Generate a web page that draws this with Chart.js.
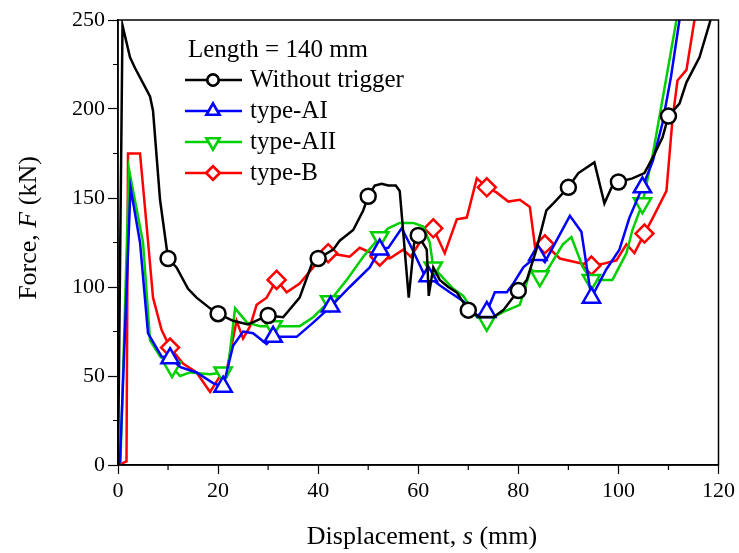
<!DOCTYPE html>
<html>
<head>
<meta charset="utf-8">
<script src="https://cdn.jsdelivr.net/npm/chart.js@4.4.1/dist/chart.umd.min.js"></script>
<style>
  html, body { margin: 0; padding: 0; background: #fff; }
  #wrap { width: 739px; height: 553px; }
</style>
</head>
<body>
<div id="wrap"><canvas id="myChart" width="739" height="553"></canvas></div>
<script>
// force-displacement curves
var blackX = [0, 0.9, 2.4, 3.4, 6.4, 7, 8.4, 10, 11.7, 14, 15.7, 18.4, 20, 23, 26, 30, 33, 36.3, 39, 40, 43, 44.3, 47, 49, 50, 51.3, 52.7, 54, 55.5, 56.3, 58.1, 59.3, 60, 61.7, 62.1, 63, 64.3, 66, 67.7, 70, 72.3, 75, 77, 80, 81.7, 83.6, 85.6, 87, 90, 92, 95.2, 97.2, 98.8, 100, 102.8, 105.2, 106.9, 108.8, 110, 112.2, 113.6, 116.2, 118.2, 118.6];
var blackY = [0, 247, 229, 223, 207, 199, 149, 116, 111, 99, 94, 88, 85, 81, 79, 84, 83, 94, 115, 116, 121, 126, 132, 143, 151, 157, 158, 157, 157, 154, 94, 128, 129, 121, 95, 111, 104, 100, 97, 87, 83, 83, 87, 98, 104, 121, 143, 147, 156, 164, 170, 147, 157, 159, 161, 164, 173, 184, 196, 203, 215, 229, 248, 252];

var blueX = [0, 0.4, 2.5, 4.4, 6, 8.7, 10.4, 12.5, 15.7, 19, 21, 23, 25, 27, 29.7, 31, 35.7, 39, 42.5, 46.3, 50.3, 52.3, 54, 56.7, 58.5, 61.7, 62, 64.3, 66.3, 69, 71.7, 73.7, 75.3, 77.7, 79, 81, 83.9, 85.3, 90.3, 92.6, 94.6, 97.6, 100.2, 102.2, 104.8, 106.9, 108.8, 110.5, 112.2];
var blueY = [0, 2, 156, 125, 74, 61, 60, 55, 52, 46, 44, 67, 75, 74, 68, 72, 72, 80, 89, 100, 111, 121, 122, 133, 123, 104, 106, 101, 97, 92, 84, 86, 97, 97, 102, 111, 118, 114, 140, 131, 94, 110, 121, 139, 156, 171, 192, 218, 250];

var greenX = [0, 0.5, 2.2, 5, 6.4, 8.4, 10.8, 12.4, 14.4, 18.4, 21, 21.8, 23.4, 25.8, 28.4, 31, 36.3, 39, 42.3, 45.7, 49, 52.3, 54, 56.3, 59, 61, 62.3, 63, 67, 69, 71.7, 73.7, 77, 80.3, 82.5, 84.3, 85.9, 88.9, 90.6, 92.9, 94.6, 98.8, 101.6, 102.8, 104.8, 106.9, 109.6, 111.6];
var greenY = [0, 2, 166, 125, 70, 61, 55, 50, 52, 51, 52, 50, 88, 80, 78, 78, 78, 83, 92, 104, 117, 128, 133, 136, 136, 134, 125, 111, 99, 95, 83, 81, 86, 90, 110, 106, 110, 124, 128, 111, 104, 104, 119, 132, 147, 175, 218, 250];

var redX = [0, 1.7, 2, 4.4, 5.8, 7, 8.7, 10.4, 13, 15.7, 18.4, 20.4, 21.5, 23.7, 25, 26.4, 27.7, 29.7, 31.7, 33.7, 36.3, 39, 42, 44.3, 46.3, 48.3, 52.3, 54.3, 57, 58.5, 60.3, 61.7, 63, 65.3, 67.7, 69.7, 71.7, 73.7, 75.7, 78, 80.3, 82.3, 83.6, 85.3, 88.3, 91.3, 94.6, 96.9, 99.6, 101.6, 103.2, 105.2, 106.9, 109.6, 110.8, 111.8, 113.6, 115.2];
var redY = [0, 2, 175, 175, 132, 94, 76, 66, 57, 52, 41, 50, 50, 81, 71, 78, 90, 94, 104, 97, 102, 111, 119, 118, 117, 122, 117, 116, 121, 117, 125, 132, 133, 119, 138, 139, 161, 156, 153, 148, 149, 145, 117, 124, 116, 114, 112, 113, 115, 124, 119, 130, 139, 154, 194, 216, 222, 250];

// where the hollow symbols sit
var blackMarks = [10, 20, 30, 40, 50, 60, 70, 80, 90, 100, 110];
var blueMarks = [10.4, 21, 31, 42.5, 52.3, 62, 73.7, 83.9, 94.6, 104.8];
var greenMarks = [10.8, 21, 31, 42.3, 52.3, 63, 73.7, 84.3, 94.6, 104.8];
var redMarks = [10.4, 31.7, 42, 52.3, 63, 73.7, 85.3, 94.6, 105.2];

var seriesNames = ['Without trigger', 'type-AI', 'type-AII', 'type-B'];
var legendTitle = 'Length = 140 mm';

var FONT = '"Liberation Serif", "Times New Roman", serif';

function pts(xs, ys) {
  return xs.map((x, i) => ({ x: x, y: ys[i] }));
}

function makeSet(label, xs, ys, marks, color, style, size, rot) {
  return {
    label: label,
    data: pts(xs, ys),
    showLine: true,
    borderColor: color,
    backgroundColor: '#fff',
    borderWidth: 2.5,
    pointBorderWidth: 2.5,
    pointStyle: style,
    pointRotation: rot,
    pointBackgroundColor: '#fff',
    pointBorderColor: color,
    pointRadius: (ctx) => (ctx.raw && marks.includes(ctx.raw.x)) ? size : 0,
    legendSize: size * 0.75,
    tension: 0
  };
}

var datasets = [
  makeSet(seriesNames[0], blackX, blackY, blackMarks, '#000000', 'circle', 7.5, 0),
  makeSet(seriesNames[1], blueX, blueY, blueMarks, '#0000ff', 'triangle', 10, 0),
  makeSet(seriesNames[2], greenX, greenY, greenMarks, '#00d000', 'triangle', 10, 180),
  makeSet(seriesNames[3], redX, redY, redMarks, '#ff0000', 'rectRot', 9, 0)
];

const framePlugin = {
  id: 'frame',
  afterDraw(chart) {
    const c = chart.ctx;
    const a = chart.chartArea;
    const xs = chart.scales.x, ys = chart.scales.y;
    c.save();
    c.strokeStyle = '#000';
    c.lineWidth = 1.5;
    c.strokeRect(a.left, a.top, a.right - a.left, a.bottom - a.top);
    // minor ticks
    c.lineWidth = 1.2;
    c.beginPath();
    for (let v = 10; v < 120; v += 20) {
      const px = xs.getPixelForValue(v);
      c.moveTo(px, a.bottom); c.lineTo(px, a.bottom + 5);
    }
    for (let v = 25; v < 250; v += 50) {
      const py = ys.getPixelForValue(v);
      c.moveTo(a.left, py); c.lineTo(a.left - 5, py);
    }
    c.stroke();

    // axis titles with italic symbols
    c.fillStyle = '#000';
    c.textBaseline = 'middle';
    function mixed(parts, cx, cy, size) {
      let w = 0;
      parts.forEach(p => { c.font = p[1] + ' ' + size + 'px ' + FONT; w += c.measureText(p[0]).width; });
      let x = cx - w / 2;
      c.textAlign = 'left';
      parts.forEach(p => { c.font = p[1] + ' ' + size + 'px ' + FONT; c.fillText(p[0], x, cy); x += c.measureText(p[0]).width; });
    }
    mixed([['Displacement, ', 'normal'], ['s', 'italic'], [' (mm)', 'normal']], 422, 537, 26);
    c.save();
    c.translate(29, 228);
    c.rotate(-Math.PI / 2);
    mixed([['Force, ', 'normal'], ['F', 'italic'], [' (kN)', 'normal']], 0, 0, 26);
    c.restore();

    // legend
    c.font = '25px ' + FONT;
    c.textAlign = 'left';
    c.fillText(legendTitle, 188, 50);
    chart.data.datasets.forEach((ds, i) => {
      const y = 80 + i * 31;
      c.strokeStyle = ds.borderColor;
      c.lineWidth = 2.5;
      c.beginPath(); c.moveTo(185, y); c.lineTo(242, y); c.stroke();
      c.fillStyle = '#fff';
      Chart.helpers.drawPoint(c, { pointStyle: ds.pointStyle, rotation: ds.pointRotation, radius: ds.legendSize, borderWidth: 2.5 }, 213, y);
      c.fill();
      c.stroke();
      c.fillStyle = '#000';
      c.fillText(ds.label, 250, y);
    });
    c.restore();
  }
};

new Chart('myChart', {
  type: 'scatter',
  data: { datasets: datasets },
  options: {
    responsive: false,
    animation: false,
    events: [],
    layout: { padding: { top: 20, right: 20, left: 0, bottom: 0 } },
    plugins: { legend: { display: false }, tooltip: { enabled: false } },
    scales: {
      x: {
        type: 'linear', min: 0, max: 120,
        border: { display: true, color: '#000', width: 1.5 },
        grid: { drawOnChartArea: false, drawTicks: true, tickLength: 9, tickWidth: 1.2,
                tickColor: (ctx) => (ctx.tick && ctx.tick.value % 20 === 0) ? '#000' : 'rgba(0,0,0,0)' },
        ticks: { stepSize: 10, padding: 4, color: '#000', font: { family: FONT, size: 22 },
                 callback: (v) => v % 20 === 0 ? v : '' },
        afterFit: (s) => { s.height = 88; }
      },
      y: {
        type: 'linear', min: 0, max: 250,
        border: { display: true, color: '#000', width: 1.5 },
        grid: { drawOnChartArea: false, drawTicks: true, tickLength: 10, tickWidth: 1.2,
                tickColor: (ctx) => (ctx.tick && ctx.tick.value % 50 === 0) ? '#000' : 'rgba(0,0,0,0)' },
        ticks: { stepSize: 25, padding: 3, color: '#000', font: { family: FONT, size: 22 },
                 callback: (v) => v % 50 === 0 ? v : '' },
        afterFit: (s) => { s.width = 118; }
      }
    }
  },
  plugins: [framePlugin]
});
</script>
</body>
</html>
